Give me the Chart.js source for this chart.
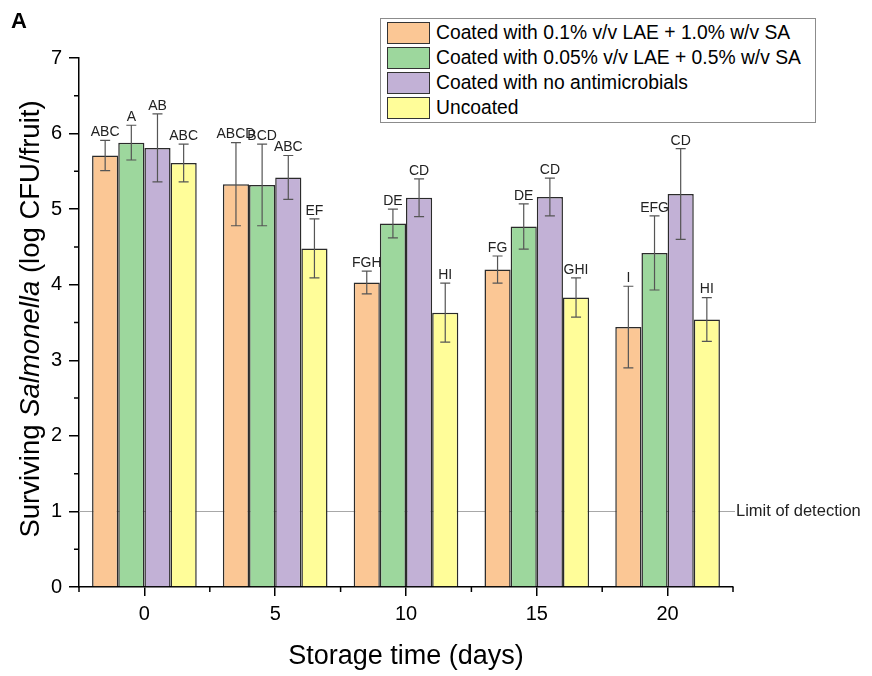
<!DOCTYPE html>
<html>
<head>
<meta charset="utf-8">
<script src="https://cdn.jsdelivr.net/npm/chart.js@4"></script>
<style>
  body { margin: 0; background: #fff; }
  #wrap { position: relative; width: 872px; height: 676px; font-family: "Liberation Sans", Arial, sans-serif; }
  #panel { position: absolute; left: 11px; top: 8px; font-size: 22px; font-weight: bold; }
  #ytitle { position: absolute; left: 30px; top: 319px; transform: translate(-50%, -50%) rotate(-90deg); font-size: 27.5px; white-space: nowrap; }
  #xtitle { position: absolute; left: 406px; top: 655px; transform: translate(-50%, -50%); font-size: 27px; white-space: nowrap; }
  #legend { position: absolute; left: 380px; top: 18px; width: 434px; height: 103px; border: 1.5px solid #8c8c8c; background: #fff; }
  .row { position: absolute; left: 6px; height: 22px; display: flex; align-items: center; font-size: 19.3px; white-space: nowrap; }
  .sw { width: 41px; height: 20px; border: 1.5px solid #333; margin-right: 6px; }
</style>
</head>
<body>
<div id="wrap">
  <canvas id="myChart" width="872" height="676"></canvas>
  <div id="panel">A</div>
  <div id="ytitle">Surviving <i>Salmonella</i> (log CFU/fruit)</div>
  <div id="xtitle">Storage time (days)</div>
  <div id="legend"></div>
</div>
<script>
// storage days
var days = ['0', '5', '10', '15', '20'];
var names = ['Coated with 0.1% v/v LAE + 1.0% w/v SA', 'Coated with 0.05% v/v LAE + 0.5% w/v SA', 'Coated with no antimicrobials', 'Uncoated'];
var colors = ['#fbc795', '#9dd79d', '#c2b1d6', '#fffd99'];

// means (log CFU/fruit)
var lae10 = [5.71, 5.33, 4.03, 4.20, 3.44];
var lae05 = [5.88, 5.32, 4.81, 4.77, 4.42];
var noAnti = [5.81, 5.42, 5.15, 5.16, 5.20];
var uncoated = [5.61, 4.48, 3.63, 3.83, 3.54];

// error bars
var lae10Err = [0.20, 0.55, 0.15, 0.18, 0.54];
var lae05Err = [0.23, 0.54, 0.19, 0.30, 0.49];
var noAntiErr = [0.45, 0.29, 0.25, 0.25, 0.60];
var uncoatedErr = [0.25, 0.39, 0.39, 0.26, 0.29];

// letters
var lae10Let = ['ABC', 'ABCD', 'FGH', 'FG', 'I'];
var lae05Let = ['A', 'BCD', 'DE', 'DE', 'EFG'];
var noAntiLet = ['AB', 'ABC', 'CD', 'CD', 'CD'];
var uncoatedLet = ['ABC', 'EF', 'HI', 'GHI', 'HI'];

var detectionLimit = 1;
var yTicks = [0, 1, 2, 3, 4, 5, 6, 7];

var values = [lae10, lae05, noAnti, uncoated];
var errs = [lae10Err, lae05Err, noAntiErr, uncoatedErr];
var lets = [lae10Let, lae05Let, noAntiLet, uncoatedLet];
var font = '"Liberation Sans", Arial, sans-serif';

// html legend
var leg = document.getElementById('legend');
names.forEach(function (n, i) {
    var r = document.createElement('div');
    r.className = 'row';
    r.style.top = (3 + i * 25) + 'px';
    r.innerHTML = '<div class="sw" style="background:' + colors[i] + '"></div>' + n;
    leg.appendChild(r);
});

var extras = {
    id: 'extras',
    beforeDatasetsDraw: function (chart) {
        var c = chart.ctx, y = chart.scales.y;
        var py = Math.round(y.getPixelForValue(detectionLimit)) + 0.5;
        c.save();
        c.strokeStyle = '#a8a8a8';
        c.lineWidth = 1;
        c.beginPath();
        c.moveTo(chart.chartArea.left, py);
        c.lineTo(chart.chartArea.right + 2, py);
        c.stroke();
        c.fillStyle = '#222';
        c.font = '16.5px ' + font;
        c.textBaseline = 'middle';
        c.fillText('Limit of detection', chart.chartArea.right + 3, py);
        c.restore();
    },
    afterDatasetsDraw: function (chart) {
        var c = chart.ctx, y = chart.scales.y;
        c.save();
        // minor ticks
        c.strokeStyle = '#000';
        c.lineWidth = 1.5;
        c.beginPath();
        for (var v = 0.5; v < 7; v += 1) {
            var p = y.getPixelForValue(v);
            c.moveTo(chart.chartArea.left, p);
            c.lineTo(chart.chartArea.left - 5, p);
        }
        var step = (chart.chartArea.right - chart.chartArea.left) / days.length;
        for (var k = 0; k <= days.length; k++) {
            var px = chart.chartArea.left + k * step;
            c.moveTo(px, chart.chartArea.bottom);
            c.lineTo(px, chart.chartArea.bottom + 5);
        }
        c.stroke();
        // error bars and letters
        c.font = '14px ' + font;
        c.textAlign = 'center';
        c.textBaseline = 'bottom';
        chart.data.datasets.forEach(function (ds, i) {
            chart.getDatasetMeta(i).data.forEach(function (bar, j) {
                var top = y.getPixelForValue(values[i][j] + errs[i][j]);
                var bot = y.getPixelForValue(values[i][j] - errs[i][j]);
                c.strokeStyle = '#555';
                c.lineWidth = 1.2;
                c.beginPath();
                c.moveTo(bar.x, top); c.lineTo(bar.x, bot);
                c.moveTo(bar.x - 5, top); c.lineTo(bar.x + 5, top);
                c.moveTo(bar.x - 5, bot); c.lineTo(bar.x + 5, bot);
                c.stroke();
                c.fillStyle = '#222';
                c.fillText(lets[i][j], bar.x, top - 1);
            });
        });
        c.restore();
    }
};

var ctx = document.getElementById('myChart');
var myChart = new Chart(ctx, {
    type: 'bar',
    data: {
        labels: days,
        datasets: values.map(function (v, i) {
            return {
                label: names[i],
                data: v,
                backgroundColor: colors[i],
                borderColor: '#2b2b2b',
                borderWidth: 1.5,
                categoryPercentage: 0.8,
                barPercentage: 1.0
            };
        })
    },
    options: {
        responsive: false,
        animation: false,
        layout: { padding: { left: 0, top: 58, right: 139, bottom: 0 } },
        plugins: { legend: { display: false }, tooltip: { enabled: false } },
        scales: {
            x: {
                offset: true,
                grid: { drawOnChartArea: false, offset: false, tickLength: 9, color: '#000', lineWidth: 1.5 },
                border: { color: '#000', width: 1.5 },
                ticks: { color: '#000', font: { size: 20, family: font }, padding: 6 },
                afterFit: function (s) { s.height = 89; }
            },
            y: {
                min: 0,
                max: 7,
                afterBuildTicks: function (s) { s.ticks = yTicks.map(function (t) { return { value: t }; }); },
                grid: { drawOnChartArea: false, tickLength: 10, color: '#000', lineWidth: 1.5 },
                border: { color: '#000', width: 1.5 },
                ticks: { color: '#000', font: { size: 20, family: font }, padding: 7 },
                afterFit: function (s) { s.width = 79; }
            }
        }
    },
    plugins: [extras]
});
</script>
</body>
</html>
